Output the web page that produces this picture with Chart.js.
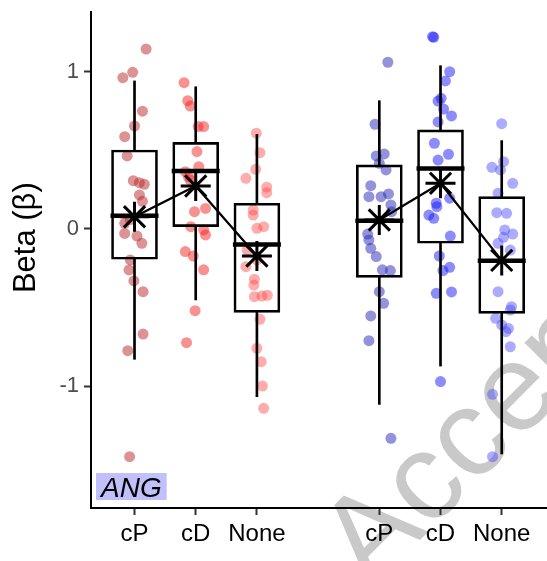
<!DOCTYPE html>
<html><head><meta charset="utf-8">
<script src="https://cdn.jsdelivr.net/npm/chart.js@4.4.1/dist/chart.umd.min.js"></script>
<style>html,body{margin:0;padding:0;background:#fff}#wrap{width:547px;height:561px}</style>
</head><body><div id="wrap"><canvas id="c" width="547" height="561"></canvas></div>
<script>
// ---------- data ----------
const groups = ['red', 'blue'];
const categories = ['cP', 'cD', 'None'];
const xTickLabels = ['cP', 'cD', 'None', 'cP', 'cD', 'None'];
const yTickValues = [-1, 0, 1];
const yTickLabels = ['-1', '0', '1'];
const yTitle = 'Beta (β)';
const panelLabel = 'ANG';
const watermark = 'Accepted';

// jittered points: horizontal offset (category units) and beta value
const redCP_off = [0.19,-0.19,-0.03,0.13,0.0,-0.16,-0.12,-0.02,0.08,0.16,0.08,0.13,-0.07,-0.16,-0.16,0.04,0.12,-0.07,-0.09,-0.01,0.14,0.14,-0.11,-0.08];
const redCP_val = [1.146,0.964,0.998,0.75,0.656,0.588,0.465,0.308,0.295,0.285,0.217,0.176,0.06,0.036,-0.028,-0.045,-0.091,-0.197,-0.261,-0.331,-0.399,-0.669,-0.775,-1.45];
const redCD_off = [-0.19,-0.13,-0.09,0.04,0.13,0.02,-0.17,0.05,-0.09,-0.12,-0.02,0.16,-0.08,0.13,0.16,-0.17,-0.04,0.13,-0.01,-0.15];
const redCD_val = [0.932,0.817,0.783,0.652,0.652,0.493,0.365,0.397,0.312,0.333,0.11,0.131,0.015,-0.006,-0.038,-0.144,-0.172,-0.26,-0.52,-0.724];
const redNone_off = [-0.01,0.05,-0.02,-0.18,0.16,0.16,-0.06,-0.06,0.0,0.11,-0.16,0.0,-0.18,-0.04,-0.05,-0.04,0.08,0.17,0.05,0.0,0.07,0.09,0.11];
const redNone_val = [0.61,0.486,0.38,0.323,0.266,0.231,0.121,0.089,0.004,0.015,-0.134,-0.197,-0.24,-0.32,-0.357,-0.431,-0.427,-0.422,-0.575,-0.76,-0.845,-1.0,-1.142];
const blueCP_off = [0.14,-0.07,-0.05,0.08,0.0,0.11,-0.14,-0.17,0.03,0.15,0.19,0.2,-0.17,-0.19,-0.14,-0.05,0.05,0.18,0.0,0.07,-0.14,-0.17,0.19];
const blueCP_val = [1.062,0.667,0.465,0.478,0.418,0.376,0.276,0.206,0.206,0.223,0.153,0.11,-0.07,-0.032,-0.123,-0.176,-0.26,-0.265,-0.399,-0.473,-0.554,-0.711,-1.333];
const blueCD_off = [-0.11,-0.13,0.15,0.08,-0.04,0.01,0.05,0.18,-0.04,-0.1,0.13,-0.04,0.15,-0.07,-0.06,-0.19,-0.11,0.16,-0.02,0.15,0.04,-0.07,0.18,0.0];
const blueCD_val = [1.221,1.225,1.002,0.943,0.815,0.832,0.764,0.72,0.682,0.546,0.476,0.439,0.196,0.164,0.142,0.089,0.068,-0.045,-0.172,-0.244,-0.265,-0.41,-0.401,-0.972];
const blueNone_off = [0.0,0.03,-0.16,-0.02,0.18,-0.06,-0.08,0.08,0.05,0.18,0.03,-0.06,0.14,-0.06,0.16,0.14,-0.1,0.0,0.11,0.07,0.14,-0.15,-0.15];
const blueNone_val = [0.671,0.429,0.393,0.376,0.291,0.227,0.104,0.1,-0.006,-0.032,-0.053,-0.091,-0.134,-0.399,-0.495,-0.516,-0.569,-0.611,-0.633,-0.654,-0.75,-1.053,-1.45];

// box statistics per group, in category order cP, cD, None
const redQ1 = [-0.193, 0.015, -0.531];
const redMedian = [0.085, 0.369, -0.098];
const redQ3 = [0.503, 0.552, 0.164];
const redWhiskLow = [-0.83, -0.452, -1.068];
const redWhiskHigh = [0.943, 0.906, 0.603];
const redMean = [0.078, 0.274, -0.172];

const blueQ1 = [-0.308, -0.091, -0.537];
const blueMedian = [0.053, 0.386, -0.202];
const blueQ3 = [0.408, 0.631, 0.206];
const blueWhiskLow = [-1.117, -0.873, -1.433];
const blueWhiskHigh = [0.817, 1.04, 0.563];
const blueMean = [0.057, 0.291, -0.2];

// ---------- assembly ----------
const pointSets = {
  red: [[redCP_off, redCP_val], [redCD_off, redCD_val], [redNone_off, redNone_val]],
  blue: [[blueCP_off, blueCP_val], [blueCD_off, blueCD_val], [blueNone_off, blueNone_val]]
};
const stats = {
  red: {q1: redQ1, med: redMedian, q3: redQ3, lo: redWhiskLow, hi: redWhiskHigh, mean: redMean},
  blue: {q1: blueQ1, med: blueMedian, q3: blueQ3, lo: blueWhiskLow, hi: blueWhiskHigh, mean: blueMean}
};
const pointColors = {
  red: ['rgba(185,40,40,0.5)', 'rgba(245,35,35,0.5)', 'rgba(255,70,70,0.45)'],
  blue: ['rgba(40,40,185,0.5)', 'rgba(25,25,250,0.5)', 'rgba(70,70,255,0.45)']
};
const pos = (g, c) => g * (categories.length + 1) + c;
const tickPositions = [];
groups.forEach((g, gi) => categories.forEach((c, ci) => tickPositions.push(pos(gi, ci))));

const datasets = [];
groups.forEach((g, gi) => {
  categories.forEach((c, ci) => {
    const [off, val] = pointSets[g][ci];
    datasets.push({
      type: 'scatter', order: 10,
      data: val.map((v, i) => ({x: pos(gi, ci) + off[i], y: v})),
      pointRadius: 5.5, pointHoverRadius: 5.5, borderWidth: 0,
      backgroundColor: pointColors[g][ci]
    });
  });
});
const whiskers = [], boxes = [], medians = [], means = [];
groups.forEach((g, gi) => {
  const s = stats[g];
  const line = [];
  categories.forEach((c, ci) => {
    const x = pos(gi, ci);
    whiskers.push({x, y: [s.lo[ci], s.q1[ci]]});
    whiskers.push({x, y: [s.q3[ci], s.hi[ci]]});
    boxes.push({x, y: [s.q1[ci], s.q3[ci]]});
    medians.push({x, y: s.med[ci]});
    means.push({x, y: s.mean[ci]});
    line.push({x, y: s.mean[ci]});
  });
  datasets.push({type: 'line', order: 2, data: line, borderColor: '#000', borderWidth: 2.2,
    pointRadius: 0, fill: false, tension: 0});
});
datasets.push({type: 'bar', order: 5, data: whiskers, grouped: false, barThickness: 2,
  backgroundColor: '#000', borderWidth: 0});
datasets.push({type: 'bar', order: 4, data: boxes, grouped: false, barThickness: 46,
  backgroundColor: 'rgba(0,0,0,0)', borderColor: '#000', borderWidth: 2, borderSkipped: false});
datasets.push({type: 'scatter', order: 3, data: medians, pointStyle: 'line', pointRadius: 24,
  pointHoverRadius: 24, borderColor: '#000', borderWidth: 4.5});
datasets.push({type: 'scatter', order: 1, data: means, pointStyle: 'star', pointRadius: 15,
  pointHoverRadius: 15, borderColor: '#000', borderWidth: 3});

const FONT = '"Liberation Sans", Arial, sans-serif';

const decor = {
  id: 'decor',
  beforeDraw(chart) {
    const ctx = chart.ctx;
    ctx.save();
    ctx.translate(370, 590);
    ctx.rotate(-45 * Math.PI / 180);
    ctx.font = '124px ' + FONT;
    ctx.fillStyle = '#c9c9c9';
    ctx.textBaseline = 'alphabetic';
    ctx.fillText(watermark, 0, 0);
    ctx.restore();
  },
  afterDraw(chart) {
    const ctx = chart.ctx, a = chart.chartArea;
    ctx.save();
    ctx.translate(26, a.top + (a.bottom - a.top) * 0.455);
    ctx.rotate(-Math.PI / 2);
    ctx.font = '31px ' + FONT;
    ctx.fillStyle = '#000';
    ctx.textAlign = 'center';
    ctx.textBaseline = 'middle';
    ctx.fillText(yTitle, 0, 0);
    ctx.restore();
  },
  afterDatasetsDraw(chart) {
    const ctx = chart.ctx, a = chart.chartArea;
    ctx.save();
    ctx.font = 'italic 28px ' + FONT;
    const w = ctx.measureText(panelLabel).width;
    const x0 = a.left + 5, y0 = a.bottom - 35;
    ctx.fillStyle = 'rgb(192,192,250)';
    ctx.fillRect(x0, y0, w + 10, 27);
    ctx.fillStyle = '#000';
    ctx.textBaseline = 'alphabetic';
    ctx.fillText(panelLabel, x0 + 5, y0 + 24);
    ctx.restore();
  }
};

new Chart(document.getElementById('c'), {
  type: 'scatter',
  data: {datasets},
  plugins: [decor],
  options: {
    responsive: false, animation: false, devicePixelRatio: 1,
    layout: {autoPadding: false, padding: {top: 12, left: 0, right: 0, bottom: 0}},
    plugins: {legend: {display: false}, tooltip: {enabled: false}},
    scales: {
      x: {
        type: 'linear', min: -0.711, max: 6.74, offset: false,
        afterBuildTicks: s => { s.ticks = tickPositions.map(v => ({value: v})); },
        afterFit: s => { s.height = 53; s.paddingLeft = 0; s.paddingRight = 0; },
        ticks: {autoSkip: false, maxRotation: 0, padding: 5, color: '#000',
          font: {family: FONT, size: 24},
          callback: (v, i) => xTickLabels[i]},
        grid: {drawOnChartArea: false, offset: false, drawTicks: true, tickLength: 7, tickColor: '#333', tickWidth: 2},
        border: {display: true, color: '#000', width: 2}
      },
      y: {
        type: 'linear', min: -1.777, max: 1.382,
        afterBuildTicks: s => { s.ticks = yTickValues.map(v => ({value: v})); },
        afterFit: s => { s.width = 91; s.paddingTop = 0; s.paddingBottom = 0; },
        ticks: {padding: 5, color: '#4d4d4d', font: {family: FONT, size: 22},
          callback: (v, i) => yTickLabels[i]},
        grid: {drawOnChartArea: false, drawTicks: true, tickLength: 7, tickColor: '#333', tickWidth: 2},
        border: {display: true, color: '#000', width: 2},
        title: {display: false}
      }
    }
  }
});
</script></body></html>
